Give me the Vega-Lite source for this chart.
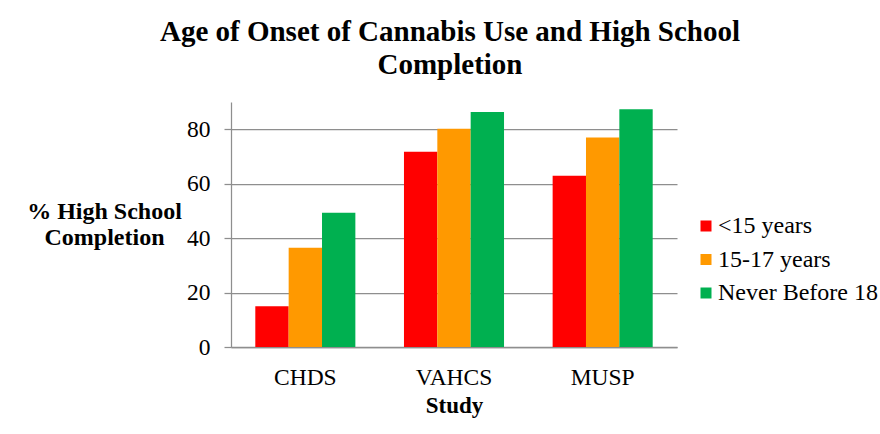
{
  "$schema": "https://vega.github.io/schema/vega-lite/v6.json",
  "autosize": {"type": "none"},
  "width": 446,
  "height": 245,
  "padding": {"left": 231, "top": 102, "right": 203, "bottom": 87},
  "background": "white",
  "title": {
    "text": ["Age of Onset of Cannabis Use and High School", "Completion"],
    "fontSize": 29,
    "fontWeight": "bold",
    "color": "black",
    "lineHeight": 33,
    "anchor": "middle",
    "dx": -4,
    "offset": 22
  },
  "data": {
    "values": [
      {"study": "CHDS", "onset": "<15 years", "pct": 15.0},
      {"study": "CHDS", "onset": "15-17 years", "pct": 36.5},
      {"study": "CHDS", "onset": "Never Before 18", "pct": 49.3},
      {"study": "VAHCS", "onset": "<15 years", "pct": 71.7},
      {"study": "VAHCS", "onset": "15-17 years", "pct": 80.2},
      {"study": "VAHCS", "onset": "Never Before 18", "pct": 86.3},
      {"study": "MUSP", "onset": "<15 years", "pct": 62.9},
      {"study": "MUSP", "onset": "15-17 years", "pct": 77.0},
      {"study": "MUSP", "onset": "Never Before 18", "pct": 87.3}
    ]
  },
  "mark": {"type": "bar"},
  "encoding": {
    "x": {
      "field": "study",
      "type": "nominal",
      "sort": ["CHDS", "VAHCS", "MUSP"],
      "scale": {"paddingInner": 0.327, "paddingOuter": 0.1635},
      "axis": {
        "title": "Study",
        "titleFontSize": 23,
        "titleFontWeight": "bold",
        "titleColor": "black",
        "titleBaseline": "alphabetic",
        "titleY": 65,
        "labelFontSize": 23.5,
        "labelColor": "black",
        "labelAngle": 0,
        "labelPadding": 18,
        "ticks": false,
        "domainColor": "#8e8e8e",
        "domainWidth": 1.5
      }
    },
    "xOffset": {
      "field": "onset",
      "type": "nominal",
      "sort": ["<15 years", "15-17 years", "Never Before 18"],
      "scale": {"paddingInner": 0, "paddingOuter": 0}
    },
    "y": {
      "field": "pct",
      "type": "quantitative",
      "scale": {"domain": [0, 90], "nice": false},
      "axis": {
        "values": [0, 20, 40, 60, 80],
        "title": ["% High School", "Completion"],
        "titleFontSize": 24,
        "titleFontWeight": "bold",
        "titleColor": "black",
        "titleAngle": 0,
        "titleAlign": "center",
        "titleBaseline": "alphabetic",
        "titleLineHeight": 26,
        "titleX": -127,
        "titleY": 116,
        "labelFontSize": 23.5,
        "labelColor": "black",
        "labelPadding": 14,
        "tickSize": 7,
        "tickColor": "#8e8e8e",
        "tickWidth": 1.25,
        "domainColor": "#8e8e8e",
        "domainWidth": 1.25,
        "grid": true,
        "gridColor": "#8e8e8e",
        "gridWidth": 1.25
      }
    },
    "color": {
      "field": "onset",
      "type": "nominal",
      "sort": ["<15 years", "15-17 years", "Never Before 18"],
      "scale": {
        "domain": ["<15 years", "15-17 years", "Never Before 18"],
        "range": ["#ff0000", "#ff9900", "#00b050"]
      },
      "legend": {
        "title": null,
        "orient": "none",
        "legendX": 463,
        "legendY": 112,
        "padding": 0,
        "symbolType": "square",
        "symbolSize": 121,
        "symbolStrokeWidth": 0,
        "labelFontSize": 24,
        "labelColor": "black",
        "labelOffset": 0,
        "rowPadding": 9.5,
        "labelLimit": 300
      }
    }
  },
  "config": {
    "font": "Liberation Serif",
    "view": {"stroke": null},
    "axis": {"labelFont": "Liberation Serif", "titleFont": "Liberation Serif"},
    "legend": {"labelFont": "Liberation Serif", "titleFont": "Liberation Serif"},
    "title": {"font": "Liberation Serif"}
  }
}
